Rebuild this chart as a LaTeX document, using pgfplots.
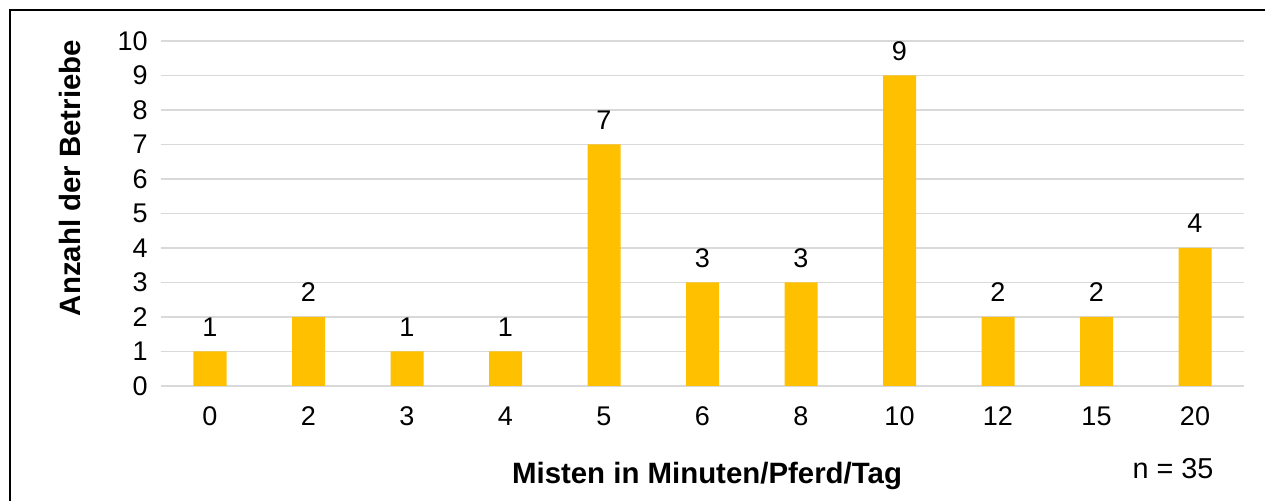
\documentclass[border=0pt]{standalone}
\usepackage{pgfplots}
\pgfplotsset{compat=1.18}
\usepackage{fontspec}
\setmainfont{Liberation Sans}
\definecolor{baryel}{HTML}{FFC000}
\definecolor{gridg}{HTML}{D9D9D9}
\begin{document}
\begin{tikzpicture}[x=0.5pt,y=0.5pt]
\useasboundingbox (0,0) rectangle (1265,501);
\draw[black,line width=0.9pt] (10,-5) -- (10,491) -- (1270,491);
\begin{axis}[
  at={(160.75*0.5pt,115*0.5pt)}, anchor=south west,
  scale only axis, width=541.75pt, height=172.5pt,
  xmin=-0.5, xmax=10.5, ymin=0, ymax=10,
  ybar, bar width=16.5pt,
  xtick=data, xticklabels={0,2,3,4,5,6,8,10,12,15,20},
  ytick={0,1,...,10},
  ymajorgrids, grid style={gridg, line width=0.75pt},
  axis line style={draw=none},
  axis x line*=bottom, axis y line*=left,
  x axis line style={draw=gridg, line width=0.75pt},
  major tick length=0pt,
  tick style={draw=none},
  /pgf/number format/assume math mode=true,
  ticklabel style={font=\fontsize{13.5}{15}\selectfont},
  xticklabel style={yshift=-7pt},
  yticklabel style={xshift=-3pt},
  nodes near coords,
  every node near coord/.append style={font=\fontsize{13.5}{15}\selectfont, yshift=4pt},
  clip=false,
]
\addplot[fill=baryel, draw=none] coordinates {
(0,1) (1,2) (2,1) (3,1) (4,7) (5,3) (6,3) (7,9) (8,2) (9,2) (10,4)};
\end{axis}
\node[rotate=90, font=\bfseries\fontsize{14.7}{17}\selectfont] at (70,323) {Anzahl der Betriebe};
\node[font=\bfseries\fontsize{14.7}{17}\selectfont] at (707,25) {Misten in Minuten/Pferd/Tag};
\node[font=\fontsize{14.4}{16}\selectfont] at (1173,32) {n = 35};
\end{tikzpicture}
\end{document}
